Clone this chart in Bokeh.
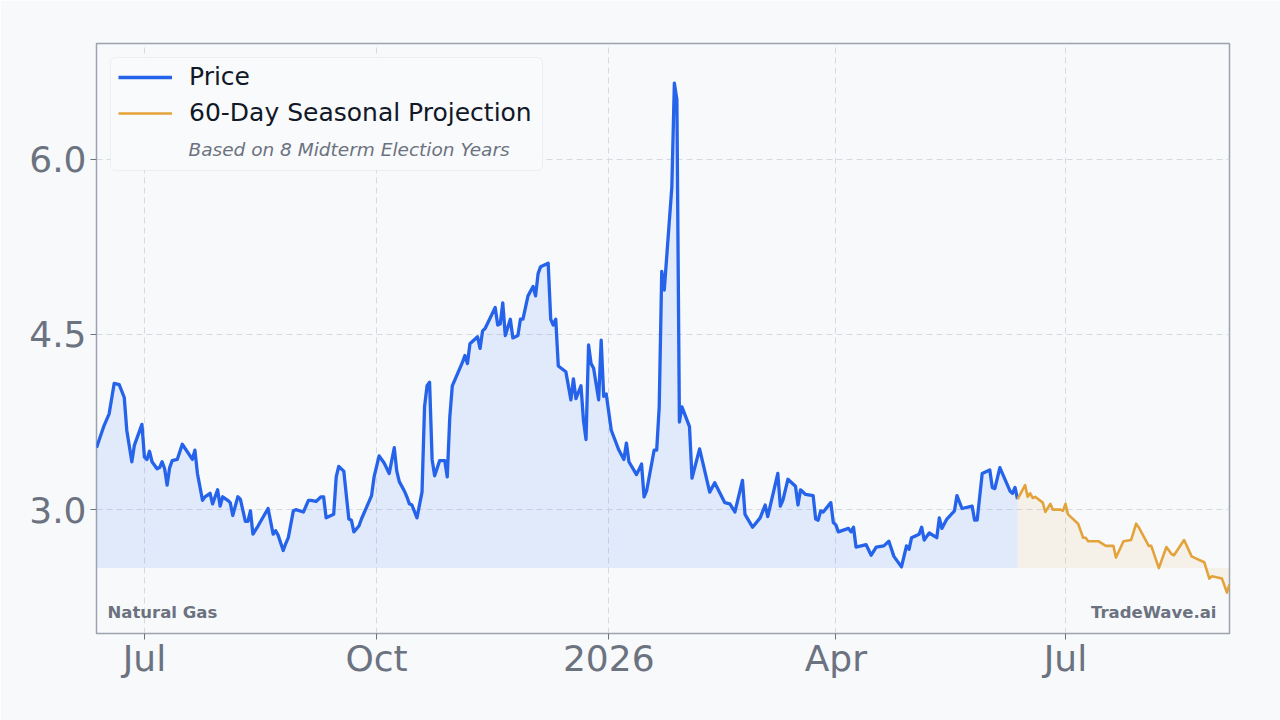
import pandas as pd
from bokeh.plotting import figure
from bokeh.models import (ColumnDataSource, Range1d, FixedTicker, Legend,
                          LegendItem, Label, BoxAnnotation)
from bokeh.embed import file_html
from bokeh.resources import INLINE

# ---------------- data ----------------
price_dates = [
    "2025-06-12", "2025-06-15", "2025-06-17", "2025-06-19", "2025-06-21", "2025-06-23", "2025-06-24",
    "2025-06-26", "2025-06-27", "2025-06-30", "2025-07-01", "2025-07-02", "2025-07-03", "2025-07-04",
    "2025-07-06", "2025-07-07", "2025-07-08", "2025-07-09", "2025-07-10", "2025-07-11", "2025-07-12",
    "2025-07-14", "2025-07-16", "2025-07-20", "2025-07-21", "2025-07-22", "2025-07-24", "2025-07-25",
    "2025-07-27", "2025-07-28", "2025-07-30", "2025-07-31", "2025-08-01", "2025-08-03", "2025-08-04",
    "2025-08-05", "2025-08-07", "2025-08-08", "2025-08-10", "2025-08-11", "2025-08-12", "2025-08-13",
    "2025-08-15", "2025-08-19", "2025-08-21", "2025-08-22", "2025-08-23", "2025-08-25", "2025-08-26",
    "2025-08-27", "2025-08-29", "2025-08-30", "2025-09-02", "2025-09-04", "2025-09-05", "2025-09-07",
    "2025-09-09", "2025-09-10", "2025-09-11", "2025-09-14", "2025-09-15", "2025-09-16", "2025-09-18",
    "2025-09-20", "2025-09-21", "2025-09-22", "2025-09-24", "2025-09-25", "2025-09-27", "2025-09-29",
    "2025-09-30", "2025-10-02", "2025-10-04", "2025-10-06", "2025-10-08", "2025-10-09", "2025-10-10",
    "2025-10-12", "2025-10-13", "2025-10-14", "2025-10-15", "2025-10-17", "2025-10-19", "2025-10-20",
    "2025-10-21", "2025-10-22", "2025-10-23", "2025-10-24", "2025-10-26", "2025-10-28", "2025-10-29",
    "2025-10-30", "2025-10-31", "2025-11-02", "2025-11-04", "2025-11-05", "2025-11-06", "2025-11-07",
    "2025-11-10", "2025-11-11", "2025-11-12", "2025-11-13", "2025-11-17", "2025-11-18", "2025-11-19",
    "2025-11-20", "2025-11-21", "2025-11-23", "2025-11-24", "2025-11-26", "2025-11-27", "2025-11-28",
    "2025-11-30", "2025-12-02", "2025-12-03", "2025-12-04", "2025-12-05", "2025-12-08", "2025-12-09",
    "2025-12-10", "2025-12-11", "2025-12-12", "2025-12-15", "2025-12-17", "2025-12-18", "2025-12-19",
    "2025-12-21", "2025-12-22", "2025-12-23", "2025-12-24", "2025-12-25", "2025-12-26", "2025-12-28",
    "2025-12-29", "2025-12-30", "2025-12-31", "2026-01-02", "2026-01-05", "2026-01-07", "2026-01-08",
    "2026-01-09", "2026-01-12", "2026-01-14", "2026-01-15", "2026-01-16", "2026-01-19", "2026-01-20",
    "2026-01-21", "2026-01-22", "2026-01-23", "2026-01-26", "2026-01-27", "2026-01-28", "2026-01-29",
    "2026-01-30", "2026-02-02", "2026-02-03", "2026-02-06", "2026-02-10", "2026-02-12", "2026-02-16",
    "2026-02-18", "2026-02-20", "2026-02-23", "2026-02-24", "2026-02-27", "2026-03-02", "2026-03-04",
    "2026-03-05", "2026-03-09", "2026-03-10", "2026-03-11", "2026-03-13", "2026-03-16", "2026-03-17",
    "2026-03-18", "2026-03-20", "2026-03-23", "2026-03-24", "2026-03-25", "2026-03-26", "2026-03-27",
    "2026-03-30", "2026-03-31", "2026-04-01", "2026-04-02", "2026-04-06", "2026-04-07", "2026-04-08",
    "2026-04-09", "2026-04-13", "2026-04-15", "2026-04-17", "2026-04-20", "2026-04-22", "2026-04-24",
    "2026-04-27", "2026-04-29", "2026-04-30", "2026-05-01", "2026-05-04", "2026-05-05", "2026-05-06",
    "2026-05-08", "2026-05-11", "2026-05-12", "2026-05-13", "2026-05-15", "2026-05-18", "2026-05-19",
    "2026-05-21", "2026-05-25", "2026-05-26", "2026-05-27", "2026-05-29", "2026-06-01", "2026-06-02",
    "2026-06-03", "2026-06-05", "2026-06-09", "2026-06-10", "2026-06-11", "2026-06-12",
]
price_values = [
    3.53, 3.72, 3.82, 4.08, 4.07, 3.96, 3.68,
    3.41, 3.55, 3.73, 3.45, 3.43, 3.50, 3.41,
    3.35, 3.36, 3.41, 3.35, 3.21, 3.36, 3.42,
    3.43, 3.56, 3.43, 3.51, 3.31, 3.08, 3.11,
    3.14, 3.05, 3.17, 3.03, 3.11, 3.08, 3.06,
    2.95, 3.11, 3.09, 2.90, 2.90, 2.99, 2.79,
    2.86, 3.01, 2.79, 2.82, 2.78, 2.65, 2.71,
    2.76, 2.99, 3.00, 2.98, 3.08, 3.08, 3.07,
    3.11, 3.11, 2.93, 2.96, 3.28, 3.37, 3.33,
    2.92, 2.91, 2.81, 2.86, 2.92, 3.02, 3.12,
    3.28, 3.46, 3.40, 3.31, 3.53, 3.33, 3.24,
    3.16, 3.11, 3.05, 3.04, 2.93, 3.15, 3.88,
    4.06, 4.09, 3.43, 3.29, 3.42, 3.42, 3.28,
    3.79, 4.06, 4.16, 4.26, 4.32, 4.25, 4.42,
    4.48, 4.38, 4.53, 4.55, 4.73, 4.58, 4.59,
    4.77, 4.49, 4.63, 4.47, 4.49, 4.63, 4.63,
    4.83, 4.91, 4.83, 5.02, 5.08, 5.11, 4.63,
    4.58, 4.63, 4.23, 4.18, 3.94, 4.12, 3.95,
    4.06, 3.76, 3.60, 4.41, 4.25, 4.21, 3.94,
    4.45, 3.97, 3.99, 3.68, 3.51, 3.43, 3.57,
    3.41, 3.30, 3.39, 3.11, 3.16, 3.51, 3.51,
    3.88, 5.04, 4.88, 5.76, 6.65, 6.51, 3.75,
    3.88, 3.71, 3.27, 3.52, 3.15, 3.23, 3.06,
    3.05, 2.98, 3.25, 2.96, 2.85, 2.93, 3.04,
    2.94, 3.31, 3.03, 3.08, 3.26, 3.20, 3.04,
    3.17, 3.13, 3.12, 2.92, 2.91, 2.99, 2.98,
    3.06, 2.89, 2.87, 2.81, 2.84, 2.81, 2.85,
    2.68, 2.70, 2.61, 2.68, 2.69, 2.73, 2.60,
    2.51, 2.69, 2.66, 2.76, 2.79, 2.85, 2.74,
    2.80, 2.76, 2.93, 2.84, 2.92, 2.99, 3.12,
    3.01, 3.03, 2.91, 2.91, 3.31, 3.34, 3.19,
    3.18, 3.36, 3.16, 3.14, 3.19, 3.09,
]
proj_dates = [
    "2026-06-12", "2026-06-15", "2026-06-16", "2026-06-17", "2026-06-18", "2026-06-19", "2026-06-22",
    "2026-06-23", "2026-06-25", "2026-06-26", "2026-06-29", "2026-06-30", "2026-07-01", "2026-07-02",
    "2026-07-06", "2026-07-08", "2026-07-09", "2026-07-10", "2026-07-14", "2026-07-17", "2026-07-20",
    "2026-07-21", "2026-07-24", "2026-07-27", "2026-07-29", "2026-07-30", "2026-08-03", "2026-08-04",
    "2026-08-07", "2026-08-10", "2026-08-12", "2026-08-13", "2026-08-17", "2026-08-20", "2026-08-21",
    "2026-08-25", "2026-08-27", "2026-08-28", "2026-09-01", "2026-09-03", "2026-09-04",
]
proj_values = [
    3.09, 3.21, 3.11, 3.14, 3.10, 3.11, 3.06,
    2.98, 3.05, 3.00, 3.00, 2.99, 3.05, 2.96,
    2.88, 2.76, 2.76, 2.73, 2.73, 2.69, 2.69,
    2.59, 2.73, 2.74, 2.88, 2.85, 2.69, 2.69,
    2.50, 2.68, 2.62, 2.61, 2.74, 2.60, 2.59,
    2.55, 2.41, 2.43, 2.41, 2.29, 2.36,
]
fill_base = 2.5
y_ticks = [3.0, 4.5, 6.0]
y_tick_labels = ["3.0", "4.5", "6.0"]
x_tick_dates = ["2025-07-01", "2025-10-01", "2026-01-01", "2026-04-01", "2026-07-01"]
x_tick_labels = ["Jul", "Oct", "2026", "Apr", "Jul"]
y_limits = (1.94, 6.99)

# ---------------- styling ----------------
BG = "#f8f9fb"
BLUE = "#2563eb"
ORANGE = "#e3a33a"
GRAY_TXT = "#6b7280"
FONT = "DejaVu Sans"

price_src = ColumnDataSource(dict(x=pd.to_datetime(price_dates), y=price_values))
proj_src = ColumnDataSource(dict(x=pd.to_datetime(proj_dates), y=proj_values))

p = figure(width=1280, height=720, x_axis_type="datetime",
           output_backend="svg", toolbar_location=None,
           x_range=Range1d(pd.Timestamp(price_dates[0]), pd.Timestamp(proj_dates[-1])),
           y_range=Range1d(*y_limits),
           min_border_left=96, min_border_right=51, min_border_top=43, min_border_bottom=87)
p.background_fill_color = BG
p.border_fill_color = BG
p.outline_line_color = "#9ca3af"
p.outline_line_width = 1.5

# fills
p.varea(x="x", y1=fill_base, y2="y", source=price_src, fill_color="#3b82f6", fill_alpha=0.12)
p.varea(x="x", y1=fill_base, y2="y", source=proj_src, fill_color=ORANGE, fill_alpha=0.09)

# lines
r_price = p.line(x="x", y="y", source=price_src, line_color=BLUE, line_width=3.3,
                 line_join="round")
r_proj = p.line(x="x", y="y", source=proj_src, line_color=ORANGE, line_width=2.6,
                line_join="round")

# axes
x_ticks_ms = [int(pd.Timestamp(d).timestamp() * 1000) for d in x_tick_dates]
p.xaxis.ticker = FixedTicker(ticks=x_ticks_ms)
p.xaxis.major_label_overrides = dict(zip(x_ticks_ms, x_tick_labels))
p.yaxis.ticker = FixedTicker(ticks=y_ticks)
p.yaxis.major_label_overrides = dict(zip(y_ticks, y_tick_labels))
for ax in (p.xaxis, p.yaxis):
    ax.axis_line_color = None
    ax.major_tick_line_color = "#6b7280"
    ax.major_tick_out = 6
    ax.major_tick_in = 0
    ax.minor_tick_line_color = None
    ax.major_label_text_font = FONT
    ax.major_label_text_font_size = "36px"
    ax.major_label_text_color = GRAY_TXT
p.xaxis.major_label_standoff = -2
p.yaxis.major_label_standoff = 4

for g in (p.xgrid, p.ygrid):
    g.grid_line_color = "#d5d9e0"
    g.grid_line_dash = "6 4"
    g.grid_line_width = 1
p.xgrid.ticker = p.xaxis.ticker
p.ygrid.ticker = p.yaxis.ticker

# legend box (drawn beneath legend entries, above the grid)
legend_box = BoxAnnotation(left=14, right=446, top=576, bottom=463,
                           left_units="screen", right_units="screen",
                           top_units="screen", bottom_units="screen",
                           fill_color="#f9fafb", fill_alpha=1.0,
                           line_color="#d1d5db", line_width=1, level="underlay")
if "border_radius" in BoxAnnotation.properties():
    legend_box.border_radius = 5
p.add_layout(legend_box)

legend = Legend(items=[LegendItem(label="Price", renderers=[r_price]),
                       LegendItem(label="60-Day Seasonal Projection", renderers=[r_proj])],
                location=(22, 506), margin=0, padding=0, spacing=7,
                glyph_height=26, glyph_width=54, label_height=26, label_standoff=17,
                label_text_font=FONT, label_text_font_size="25px", label_text_color="#111827",
                border_line_color=None, background_fill_alpha=0.0)
p.add_layout(legend)

p.add_layout(Label(x=92, y=484, x_units="screen", y_units="screen",
                   text="Based on 8 Midterm Election Years", text_baseline="middle",
                   text_font=FONT, text_font_style="italic", text_font_size="18.5px",
                   text_color=GRAY_TXT))
p.add_layout(Label(x=11, y=21, x_units="screen", y_units="screen", text="Natural Gas",
                   text_baseline="middle", text_font=FONT, text_font_style="bold",
                   text_font_size="16.5px", text_color=GRAY_TXT))
p.add_layout(Label(x=1120, y=21, x_units="screen", y_units="screen", text="TradeWave.ai",
                   text_baseline="middle", text_align="right", text_font=FONT,
                   text_font_style="bold", text_font_size="16.5px", text_color=GRAY_TXT))

open("out.html", "w").write(file_html(p, INLINE))
